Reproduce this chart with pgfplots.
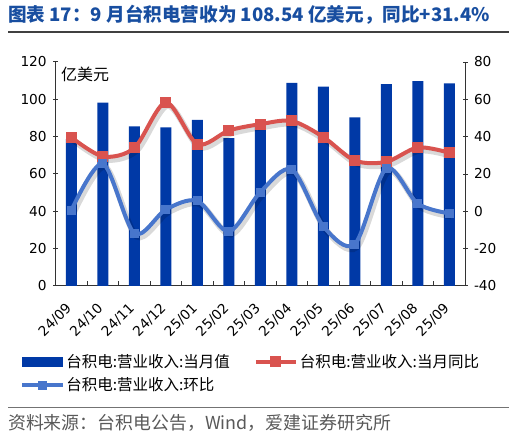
\documentclass[border=0pt]{standalone}
\usepackage{fontspec}
\setmainfont{DejaVu Sans}
\newfontfamily\cjk{Noto Sans CJK SC}
\usepackage{pgfplots}
\usepackage{pgfplotstable}
\pgfplotsset{compat=1.18}
\definecolor{barblue}{RGB}{0,57,166}
\definecolor{lred}{RGB}{217,83,79}
\definecolor{lblue}{RGB}{72,118,204}
\definecolor{ttl}{RGB}{24,78,160}
\pgfplotstableread{
x v yoy mom
0 78.7 39.6 0.6
1 98.2 29.4 25.5
2 85.5 34.0 -11.8
3 85.0 58.3 1.0
4 89.0 36.0 5.6
5 79.2 43.3 -10.8
6 86.5 46.7 10.3
7 108.8 48.4 22.4
8 106.8 39.8 -8.0
9 90.3 27.2 -17.6
10 108.2 26.5 23.0
11 109.8 34.2 4.1
12 108.54 31.4 -1.1
}\data
\begin{document}
\begin{tikzpicture}[x=1pt,y=1pt]
\useasboundingbox (0,0) rectangle (517,439);
\node[anchor=base west, inner sep=0pt, text=ttl, font=\cjk\bfseries\fontsize{18.6}{21}\selectfont] at (8,417) {图表 17：9 月台积电营收为 108.54 亿美元，同比+31.4\%};
\draw[line width=1.5pt, black!75] (8,407) -- (509,407);
\draw[line width=1pt, black!55] (8,31) -- (509,31);
\node[anchor=base west, inner sep=0pt, text=black!65, font=\cjk\fontsize{17.9}{20}\selectfont] at (8,9) {资料来源：台积电公告，Wind，爱建证券研究所};

\begin{axis}[at={(55.7pt,153pt)}, anchor=south west, scale only axis, width=409.3pt, height=224pt,
 xmin=-0.5, xmax=12.5, ymin=0, ymax=120, ytick={0,20,...,120},
 axis x line*=bottom, axis y line*=left,
 axis line style={black!80, line width=1pt},
 tick align=center, major tick length=5pt, minor tick length=5pt,
 tick style={black!80, line width=1pt},
 xtick={0,...,12},
 xticklabels={24/09,24/10,24/11,24/12,25/01,25/02,25/03,25/04,25/05,25/06,25/07,25/08,25/09},
 major x tick style={draw=none},
 minor xtick={0.5,1.5,...,11.5},
 minor x tick style={yshift=2.5pt},
 xticklabel style={xshift=0pt, yshift=-15pt, rotate=45, anchor=east, font=\fontsize{13.7}{15}\selectfont},
 yticklabel style={font=\fontsize{13.7}{15}\selectfont, xshift=-3pt},
 /pgf/number format/assume math mode=true,
 clip=false,
]
\addplot[ybar, bar width=11pt, fill=barblue, draw=none] table[x=x,y=v]{\data};
\end{axis}

\begin{axis}[at={(55.7pt,153pt)}, anchor=south west, scale only axis, width=409.3pt, height=224pt,
 xmin=-0.5, xmax=12.5, ymin=-40, ymax=80, ytick={-40,-20,...,80},
 axis x line=none, axis y line*=right,
 axis line style={black!80, line width=1pt},
 tick align=center, major tick length=5pt,
 tick style={black!80, line width=1pt},
 yticklabel style={font=\fontsize{13.7}{15}\selectfont, xshift=3pt},
 /pgf/number format/assume math mode=true,
 clip=false,
 legend style={at={(axis description cs:-0.087,-0.295)}, anchor=north west, draw=none, fill=none,
   font=\cjk\fontsize{15.5}{17}\selectfont, inner sep=0pt, row sep=5pt,
   /tikz/every even column/.append style={column sep=22pt}},
 legend columns=2, legend cell align=left,
 legend image code/.code={\draw[mark repeat=2,mark phase=2,#1] plot coordinates {(0pt,0pt) (20pt,0pt) (40pt,0pt)};},
]
\addlegendimage{legend image code/.code={\fill[barblue] (0pt,-4.5pt) rectangle (40pt,4.5pt);}}
\addlegendentry{台积电:营业收入:当月值}
\addplot[smooth, black, opacity=0.15, line width=6pt, xshift=2pt, yshift=-3pt, forget plot] table[x=x,y=yoy]{\data};
\addplot[smooth, black, opacity=0.15, line width=6pt, xshift=2pt, yshift=-3pt, forget plot] table[x=x,y=mom]{\data};
\addplot[smooth, lred, line width=4pt, mark=square*, mark size=5pt, mark options={line width=0pt, fill=lred}] table[x=x,y=yoy]{\data};
\addlegendentry{台积电:营业收入:当月同比}
\addplot[smooth, lblue, line width=4pt, mark=square*, mark size=4pt, mark options={line width=0pt, fill=lblue}] table[x=x,y=mom]{\data};
\addlegendentry{台积电:营业收入:环比}
\end{axis}
\node[anchor=west, inner sep=0pt, font=\cjk\fontsize{16}{18}\selectfont] at (61,365) {亿美元};
\end{tikzpicture}
\end{document}
